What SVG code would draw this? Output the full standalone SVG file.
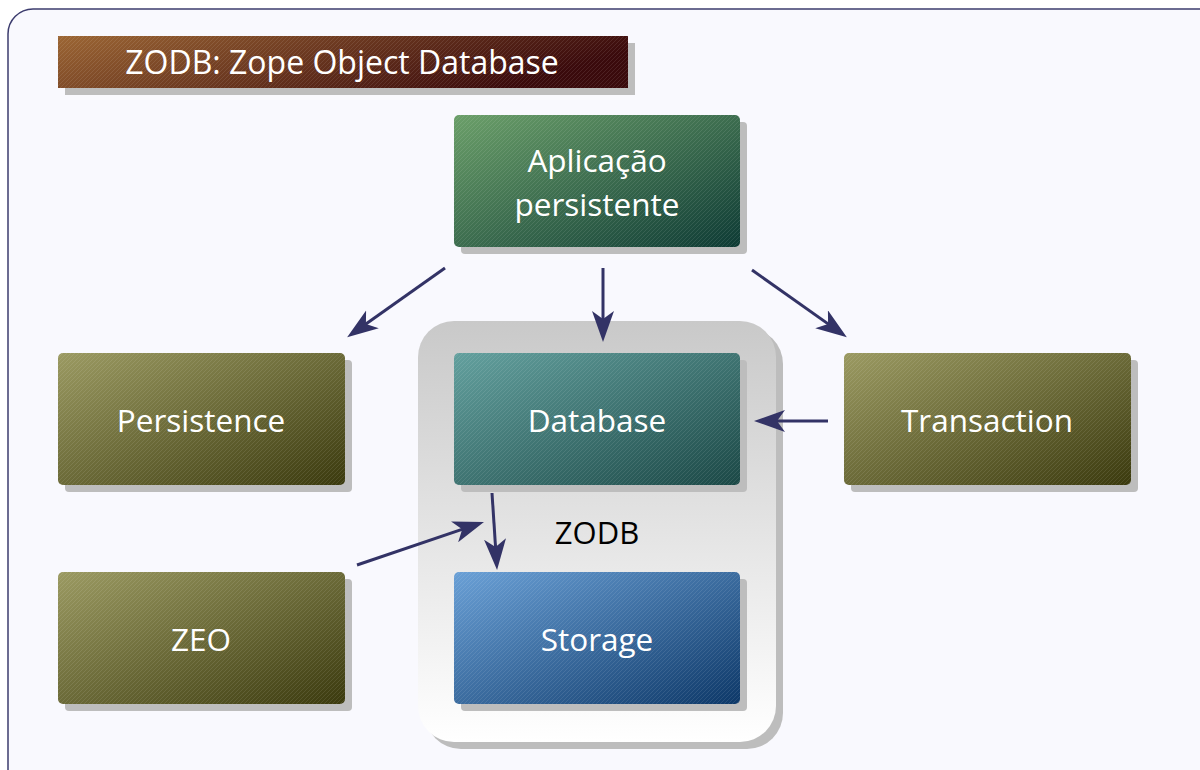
<svg xmlns="http://www.w3.org/2000/svg" width="1200" height="770" viewBox="0 0 1200 770">
<style>
.lbl{font-family:"Open Sans","Noto Sans",sans-serif;font-size:31.5px;fill:#ffffff;text-anchor:middle}
.blk{font-family:"Open Sans","Noto Sans",sans-serif;font-size:31px;fill:#000000;text-anchor:middle}
.sh{fill:#bdbdbd}
.conn{stroke:#333366;stroke-width:3;fill:none;marker-end:url(#ah)}
</style>
<defs>
<pattern id="hatch" patternUnits="userSpaceOnUse" width="4" height="4">
<path d="M-1,5 L5,-1 M-1,1 L1,-1 M3,5 L5,3" stroke="#ffffff" stroke-opacity="0.12" stroke-width="0.8"/>
</pattern>
<linearGradient id="gBrown" x1="0" y1="0" x2="1" y2="0.3">
<stop offset="0" stop-color="#9c6634"/><stop offset="1" stop-color="#3a0a0c"/>
</linearGradient>
<linearGradient id="gGreen" x1="0" y1="0" x2="1" y2="1">
<stop offset="0" stop-color="#6b9f69"/><stop offset="1" stop-color="#0e3b35"/>
</linearGradient>
<linearGradient id="gOlive" x1="0" y1="0" x2="1" y2="1">
<stop offset="0" stop-color="#9b9a62"/><stop offset="1" stop-color="#3b3a0e"/>
</linearGradient>
<linearGradient id="gTeal" x1="0" y1="0" x2="1" y2="1">
<stop offset="0" stop-color="#63a09e"/><stop offset="1" stop-color="#1b4846"/>
</linearGradient>
<linearGradient id="gBlue" x1="0" y1="0" x2="1" y2="1">
<stop offset="0" stop-color="#6aa0d6"/><stop offset="1" stop-color="#0d3868"/>
</linearGradient>
<linearGradient id="gCont" x1="0" y1="0" x2="0" y2="1">
<stop offset="0" stop-color="#c9c9c9"/><stop offset="1" stop-color="#ffffff"/>
</linearGradient>
<marker id="ah" markerUnits="userSpaceOnUse" markerWidth="34" markerHeight="24" refX="21" refY="11" orient="auto">
<path d="M0,0 L31,11 L0,22 L8,11 z" fill="#333366"/>
</marker>
</defs>

<rect x="8" y="9" width="1220" height="790" rx="25" fill="#f9f9fe" stroke="#3c3c6e" stroke-width="1.5"/>

<g id="title">
<rect class="sh" x="65" y="43" width="570" height="52"/>
<rect x="58" y="36" width="570" height="52" fill="url(#gBrown)"/>
<rect x="58" y="36" width="570" height="52" fill="url(#hatch)"/>
<text x="342" y="74" class="lbl" style="font-size:32px">ZODB: Zope Object Database</text>
</g>

<g id="zodb">
<rect class="sh" x="425" y="328" width="358" height="421" rx="36"/>
<rect x="418" y="321" width="358" height="421" rx="36" fill="url(#gCont)"/>
<text x="597" y="544" class="blk">ZODB</text>
</g>

<g id="aplicacao">
<rect class="sh" x="461" y="122" width="286" height="132" rx="4"/>
<rect x="454" y="115" width="286" height="132" rx="5" fill="url(#gGreen)"/>
<rect x="454" y="115" width="286" height="132" rx="5" fill="url(#hatch)"/>
<text x="597" y="172" class="lbl">Aplicação</text>
<text x="597" y="216" class="lbl">persistente</text>
</g>

<g id="persistence">
<rect class="sh" x="65" y="360" width="287" height="132" rx="4"/>
<rect x="58" y="353" width="287" height="132" rx="5" fill="url(#gOlive)"/>
<rect x="58" y="353" width="287" height="132" rx="5" fill="url(#hatch)"/>
<text x="201" y="432" class="lbl">Persistence</text>
</g>

<g id="database">
<rect class="sh" x="461" y="360" width="286" height="132" rx="4"/>
<rect x="454" y="353" width="286" height="132" rx="5" fill="url(#gTeal)"/>
<rect x="454" y="353" width="286" height="132" rx="5" fill="url(#hatch)"/>
<text x="597" y="432" class="lbl">Database</text>
</g>

<g id="transaction">
<rect class="sh" x="851" y="360" width="287" height="132" rx="4"/>
<rect x="844" y="353" width="287" height="132" rx="5" fill="url(#gOlive)"/>
<rect x="844" y="353" width="287" height="132" rx="5" fill="url(#hatch)"/>
<text x="987" y="432" class="lbl">Transaction</text>
</g>

<g id="zeo">
<rect class="sh" x="65" y="579" width="287" height="132" rx="4"/>
<rect x="58" y="572" width="287" height="132" rx="5" fill="url(#gOlive)"/>
<rect x="58" y="572" width="287" height="132" rx="5" fill="url(#hatch)"/>
<text x="201" y="651" class="lbl">ZEO</text>
</g>

<g id="storage">
<rect class="sh" x="461" y="579" width="286" height="132" rx="4"/>
<rect x="454" y="572" width="286" height="132" rx="5" fill="url(#gBlue)"/>
<rect x="454" y="572" width="286" height="132" rx="5" fill="url(#hatch)"/>
<text x="597" y="651" class="lbl">Storage</text>
</g>

<g id="connectors">
<line class="conn" x1="445" y1="268" x2="355.3" y2="331.5"/>
<line class="conn" x1="603" y1="268" x2="603" y2="332"/>
<line class="conn" x1="752" y1="270" x2="838.7" y2="331.4"/>
<line class="conn" x1="828" y1="421" x2="764" y2="421"/>
<line class="conn" x1="492" y1="493" x2="496.4" y2="560"/>
<line class="conn" x1="357" y1="565" x2="474.5" y2="525.2"/>
</g>
</svg>
